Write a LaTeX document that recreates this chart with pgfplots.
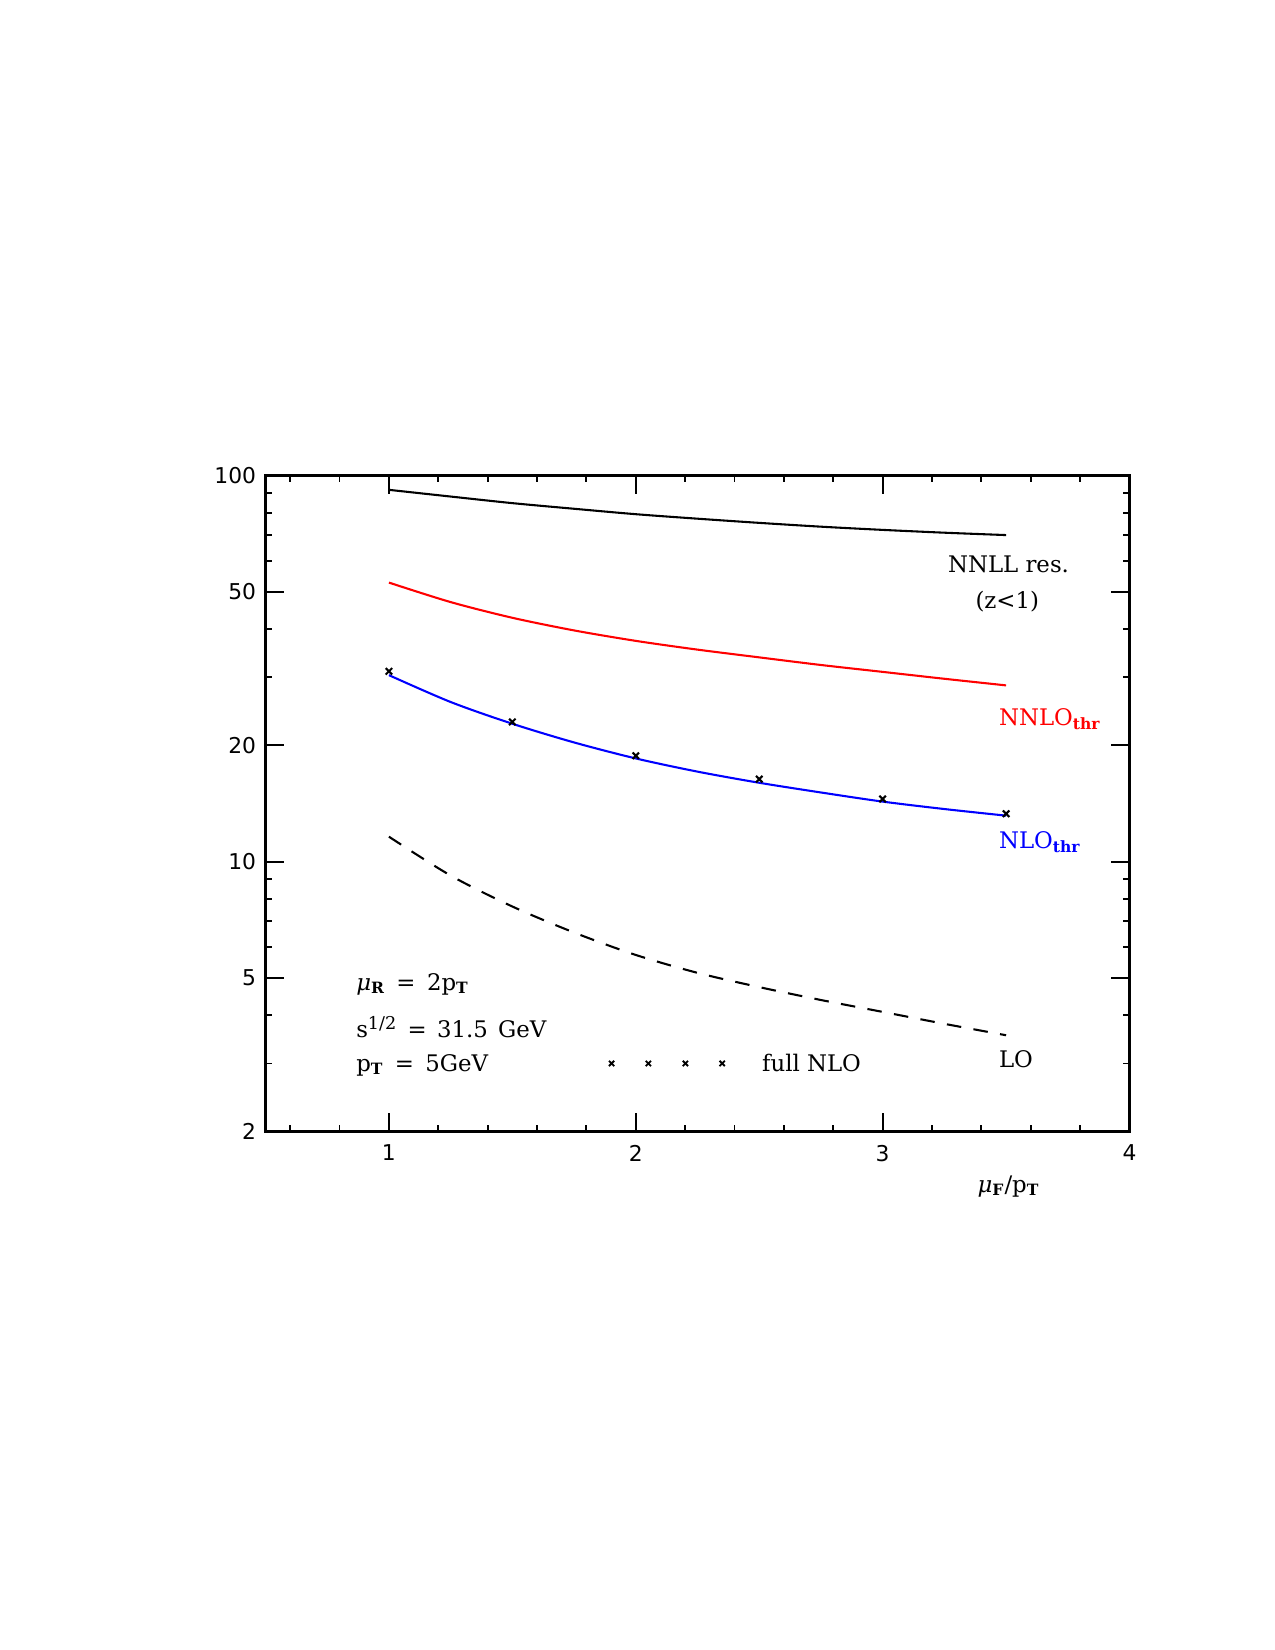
\documentclass[border=0pt]{standalone}
\usepackage{fontspec}
\setmainfont{DejaVu Serif}
\newfontfamily\tickfont{DejaVu Sans}
\usepackage{pgfplots}
\usepackage{pgfplotstable}
\pgfplotsset{compat=1.18}

% cross sections versus mu_F/p_T
\pgfplotstableread{
x    y
1.00 91.8
1.25 88.2
1.50 84.8
1.75 82.0
2.00 79.4
2.25 77.3
2.50 75.4
2.75 73.7
3.00 72.3
3.25 71.1
3.50 70.1
}\nnll
\pgfplotstableread{
x    y
1.00 52.8
1.25 47.0
1.50 42.8
1.75 39.7
2.00 37.3
2.25 35.4
2.50 33.8
2.75 32.3
3.00 31.0
3.25 29.75
3.50 28.6
}\nnlo
\pgfplotstableread{
x    y
1.00 30.4
1.25 25.9
1.50 22.75
1.75 20.35
2.00 18.5
2.25 17.1
2.50 16.0
2.75 15.1
3.00 14.3
3.25 13.68
3.50 13.15
}\nlo
\pgfplotstableread{
x    y
1.00 31.1
1.50 23.0
2.00 18.8
2.50 16.35
3.00 14.52
3.50 13.3
}\fullnlo
\pgfplotstableread{
x    y
1.00 11.6
1.25 9.20
1.50 7.65
1.75 6.55
2.00 5.73
2.25 5.15
2.50 4.73
2.75 4.38
3.00 4.08
3.25 3.80
3.50 3.55
}\lo

% small bold subscripts
\newcommand{\sub}[1]{\textsubscript{\fontsize{7.5}{8}\selectfont\bfseries #1}}

\begin{document}
\begin{tikzpicture}[lbl/.style={font=\fontsize{11}{13}\selectfont}]
\begin{axis}[
  name=ax,
  scale only axis,
  width=5.76in, height=4.373in,
  xmin=0.5, xmax=4,
  ymode=log, ymin=2, ymax=100,
  xtick={1,2,3,4},
  xticklabels={1,2,3,4},
  minor xtick={0.6,0.8,1.2,1.4,1.6,1.8,2.2,2.4,2.6,2.8,3.2,3.4,3.6,3.8},
  ytick={2,5,10,20,50,100},
  yticklabels={2,5,10,20,50,100},
  minor ytick={3,4,6,7,8,9,30,40,60,70,80,90},
  tick align=inside,
  major tick length=0.125in,
  minor tick length=0.045in,
  every tick/.style={black, line width=0.9pt},
  axis line style={line width=1.2pt},
  /pgf/number format/assume math mode=true,
  ticklabel style={font=\tickfont\fontsize{10.5}{12}\selectfont},
  xticklabel style={yshift=-3pt},
  yticklabel style={xshift=-1pt},
  clip=false,
]
\addplot[black, line width=1pt, smooth] table[x=x,y=y]{\nnll};
\addplot[red, line width=1pt, smooth] table[x=x,y=y]{\nnlo};
\addplot[blue, line width=1pt, smooth] table[x=x,y=y]{\nlo};
\addplot[black, line width=1pt, smooth, dash pattern=on 7pt off 6pt] table[x=x,y=y]{\lo};
\addplot[only marks, mark=x, mark size=2.2pt, black, mark options={line width=1pt}] table[x=x,y=y]{\fullnlo};
% key for the full NLO points
\addplot[only marks, mark=x, mark size=1.8pt, black, mark options={line width=0.9pt}] coordinates {(1.902,3.0) (2.051,3.0) (2.201,3.0) (2.350,3.0)};

\node[lbl, anchor=west, inner sep=0pt] at (axis cs:2.51,3.0) {full NLO};
\node[lbl] at (axis cs:3.51,59) {NNLL res.};
\node[lbl] at (axis cs:3.505,47) {(z<1)};
\node[lbl, anchor=west, red, inner sep=0pt] at (axis cs:3.47,23.4) {NNLO\sub{thr}};
\node[lbl, anchor=west, blue, inner sep=0pt] at (axis cs:3.47,11.2) {NLO\sub{thr}};
\node[lbl, anchor=west, inner sep=0pt] at (axis cs:3.47,3.07) {LO};
\node[lbl, anchor=west, inner sep=0pt] at (axis cs:0.866,4.82) {\textit{μ}\sub{R}\hspace{0.5em}=\hspace{0.5em}2p\sub{T}};
\node[lbl, anchor=west, inner sep=0pt] at (axis cs:0.866,3.72) {s\textsuperscript{\fontsize{8.5}{9}\selectfont 1/2}\hspace{0.45em}=\hspace{0.45em}31.5\hspace{0.45em}GeV};
\node[lbl, anchor=west, inner sep=0pt] at (axis cs:0.866,2.97) {p\sub{T}\hspace{0.5em}=\hspace{0.5em}5GeV};
\node[lbl] at (axis cs:3.51,2) [yshift=-0.367in] {\textit{μ}\sub{F}/p\sub{T}};
\end{axis}
% page frame
\path ([xshift=-1.77in,yshift=-3.457in]ax.south west) rectangle ([xshift=0.97in,yshift=3.17in]ax.north east);
\end{tikzpicture}
\end{document}
